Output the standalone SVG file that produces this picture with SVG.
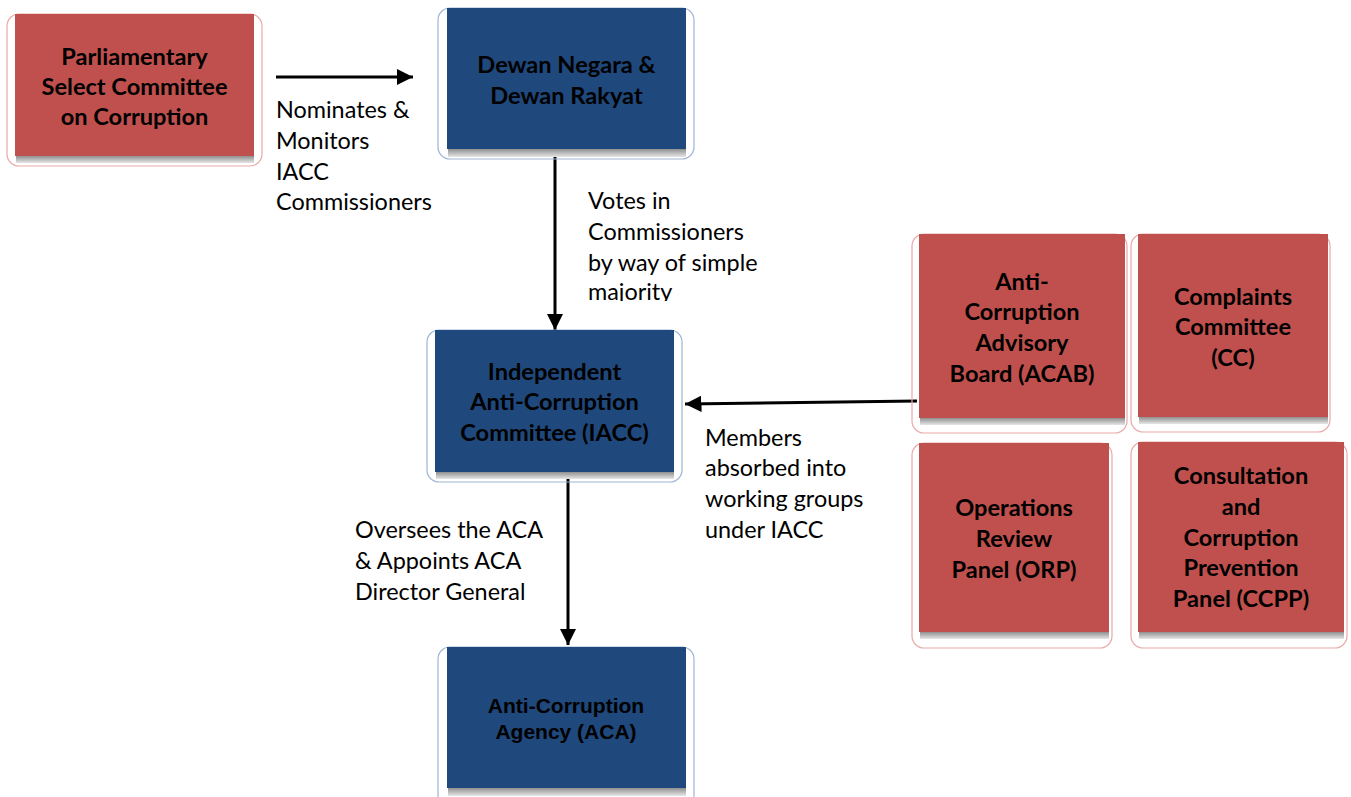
<svg xmlns="http://www.w3.org/2000/svg" width="1351" height="797" viewBox="0 0 1351 797">
<style>
.ored{fill:none;stroke:#E8A9A7;stroke-width:1.2}
.oblue{fill:none;stroke:#9DB5D6;stroke-width:1.2}
.red{fill:#C0504D}
.blue{fill:#1F487C}
.shadow{fill:url(#sh)}
.nt{font-family:Lato,"Liberation Sans",sans-serif;font-weight:bold;font-size:23.6px;fill:#000;text-anchor:middle}
.at{font-family:"Liberation Sans",Arial,sans-serif;font-weight:bold;font-size:21px;fill:#000;text-anchor:middle}
.lb{font-family:Lato,"Liberation Sans",sans-serif;font-size:23.4px;fill:#000}
.cn{stroke:#000;stroke-width:3;fill:none}
</style>
<defs>
<linearGradient id="sh" x1="0" y1="0" x2="0" y2="1">
<stop offset="0" stop-color="#8f8f8f"/>
<stop offset="1" stop-color="#e6e6e6"/>
</linearGradient>
<marker id="ah" viewBox="0 0 10 10" refX="10" refY="5" markerWidth="5.5" markerHeight="5.5" orient="auto" markerUnits="strokeWidth">
<path d="M0,0 L10,5 L0,10 z" fill="#000"/>
</marker>
<clipPath id="clipv"><rect x="580" y="180" width="200" height="121"/></clipPath>
</defs>

<g id="connectors">
<line class="cn" x1="276" y1="77" x2="413" y2="77" marker-end="url(#ah)"/>
<line class="cn" x1="555" y1="150" x2="555" y2="330" marker-end="url(#ah)"/>
<line class="cn" x1="917" y1="401" x2="685" y2="404" marker-end="url(#ah)"/>
<line class="cn" x1="568" y1="470" x2="568" y2="645" marker-end="url(#ah)"/>
<g id="label-nominates">
<text class="lb" x="276" y="118">Nominates &amp;</text>
<text class="lb" x="276" y="149">Monitors</text>
<text class="lb" x="276" y="180">IACC</text>
<text class="lb" x="276" y="210">Commissioners</text>
</g>
<g id="label-votes" clip-path="url(#clipv)">
<text class="lb" x="588" y="209">Votes in</text>
<text class="lb" x="588" y="240">Commissioners</text>
<text class="lb" x="588" y="271">by way of simple</text>
<text class="lb" x="588" y="300">majority</text>
</g>
<g id="label-members">
<text class="lb" x="705" y="446">Members</text>
<text class="lb" x="705" y="476">absorbed into</text>
<text class="lb" x="705" y="507">working groups</text>
<text class="lb" x="705" y="538">under IACC</text>
</g>
<g id="label-oversees">
<text class="lb" x="355" y="538">Oversees the ACA</text>
<text class="lb" x="355" y="569">&amp; Appoints ACA</text>
<text class="lb" x="355" y="600">Director General</text>
</g>
</g>

<g id="node-psc">
<rect class="ored" x="7" y="14" width="255" height="152" rx="12"/>
<rect class="shadow" x="16" y="156" width="238" height="7"/>
<rect class="red" x="15" y="14" width="239" height="142"/>
<text class="nt" x="134.5" y="65">Parliamentary</text>
<text class="nt" x="134.5" y="95">Select Committee</text>
<text class="nt" x="134.5" y="125">on Corruption</text>
</g>

<g id="node-dewan">
<rect class="oblue" x="438" y="8" width="256" height="151" rx="12"/>
<rect class="shadow" x="448" y="149" width="238" height="8"/>
<rect class="blue" x="447" y="8" width="239" height="141"/>
<text class="nt" x="566.5" y="73">Dewan Negara &amp;</text>
<text class="nt" x="566.5" y="104">Dewan Rakyat</text>
</g>

<g id="node-iacc">
<rect class="oblue" x="427" y="330" width="255" height="152" rx="12"/>
<rect class="shadow" x="436" y="472" width="238" height="7"/>
<rect class="blue" x="435" y="330" width="239" height="142"/>
<text class="nt" x="554.5" y="380">Independent</text>
<text class="nt" x="554.5" y="410">Anti-Corruption</text>
<text class="nt" x="554.5" y="441">Committee (IACC)</text>
</g>

<g id="node-aca">
<rect class="oblue" x="438" y="647" width="256" height="160" rx="12"/>
<rect class="shadow" x="448" y="788" width="238" height="8"/>
<rect class="blue" x="447" y="647" width="239" height="141"/>
<text class="at" x="566" y="713">Anti-Corruption</text>
<text class="at" x="566" y="739">Agency (ACA)</text>
</g>

<g id="node-acab">
<rect class="ored" x="912" y="234" width="215" height="199" rx="12"/>
<rect class="shadow" x="920" y="418" width="205" height="7"/>
<rect class="red" x="919" y="234" width="206" height="184"/>
<text class="nt" x="1022" y="290">Anti-</text>
<text class="nt" x="1022" y="320">Corruption</text>
<text class="nt" x="1022" y="351">Advisory</text>
<text class="nt" x="1022" y="382">Board (ACAB)</text>
</g>

<g id="node-cc">
<rect class="ored" x="1131" y="234" width="199" height="198" rx="12"/>
<rect class="shadow" x="1139" y="417" width="189" height="7"/>
<rect class="red" x="1138" y="234" width="190" height="183"/>
<text class="nt" x="1233" y="305">Complaints</text>
<text class="nt" x="1233" y="335">Committee</text>
<text class="nt" x="1233" y="366">(CC)</text>
</g>

<g id="node-orp">
<rect class="ored" x="912" y="443" width="200" height="205" rx="12"/>
<rect class="shadow" x="920" y="632" width="189" height="7"/>
<rect class="red" x="919" y="443" width="190" height="189"/>
<text class="nt" x="1014" y="516">Operations</text>
<text class="nt" x="1014" y="547">Review</text>
<text class="nt" x="1014" y="578">Panel (ORP)</text>
</g>

<g id="node-ccpp">
<rect class="ored" x="1131" y="442" width="216" height="206" rx="12"/>
<rect class="shadow" x="1139" y="632" width="205" height="7"/>
<rect class="red" x="1138" y="442" width="206" height="190"/>
<text class="nt" x="1241" y="484">Consultation</text>
<text class="nt" x="1241" y="515">and</text>
<text class="nt" x="1241" y="546">Corruption</text>
<text class="nt" x="1241" y="576">Prevention</text>
<text class="nt" x="1241" y="607">Panel (CCPP)</text>
</g>
</svg>
